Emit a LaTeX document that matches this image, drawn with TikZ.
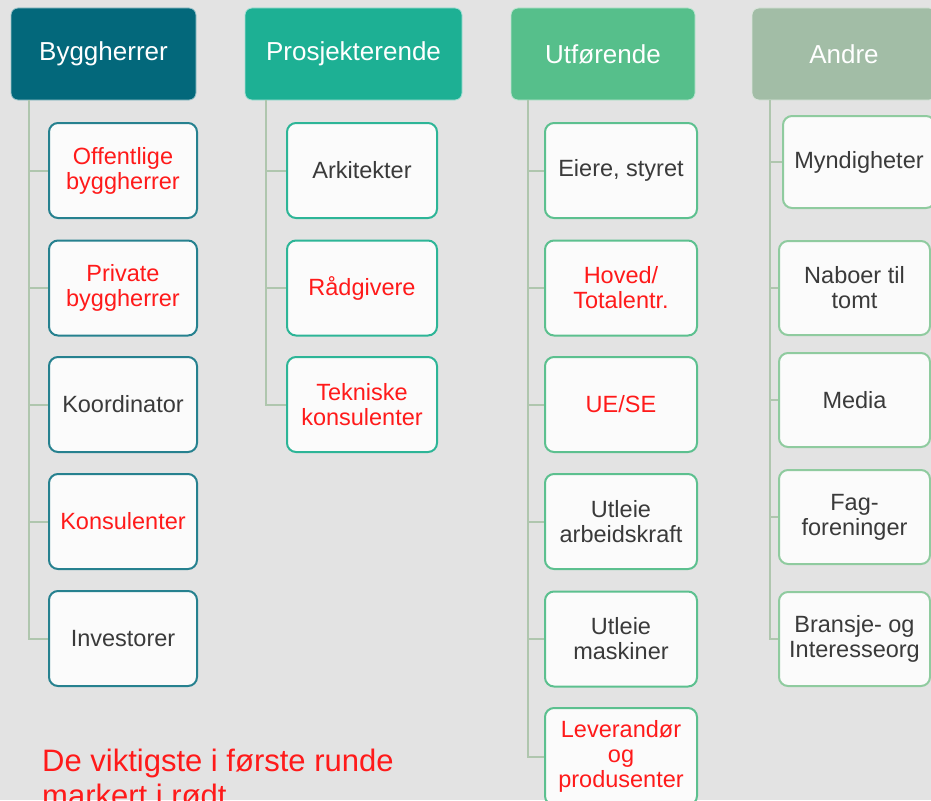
\documentclass[tikz,border=0pt]{standalone}
\usepackage{fontspec}
\setmainfont{Liberation Sans}
\definecolor{bgc}{HTML}{E3E3E3}
\definecolor{hA}{HTML}{03687B}
\definecolor{hB}{HTML}{1DB094}
\definecolor{hC}{HTML}{56BF8B}
\definecolor{hD}{HTML}{A2BDA6}
\definecolor{bA}{HTML}{26818F}
\definecolor{bB}{HTML}{2DB597}
\definecolor{bC}{HTML}{5CC08F}
\definecolor{bD}{HTML}{8FCB9F}
\definecolor{lnc}{HTML}{AFC6AE}
\definecolor{grt}{HTML}{3A3A3A}
\definecolor{redt}{HTML}{FF1A1A}
\definecolor{cfill}{HTML}{FBFBFB}
\tikzset{
  hdr/.style={rectangle, rounded corners=7pt, draw=white!60!#1, line width=0.8pt, fill=#1, text=white,
    minimum height=92pt, inner sep=0pt, font=\fontsize{26}{29}\selectfont, align=center},
  child/.style={rectangle, rounded corners=9pt, draw=#1, line width=2pt, fill=cfill,
    minimum height=95pt, minimum width=149pt, inner sep=0pt, font=\fontsize{23.5}{25}\selectfont, align=center, text=grt},
  red/.style={text=redt},
  conn/.style={draw=lnc, line width=2pt},
}
\begin{document}
\begin{tikzpicture}[x=1pt,y=-1pt]
\useasboundingbox[fill=bgc] (0,0) rectangle (931,800);
% headers
\node[hdr=hA, minimum width=185pt] (h1) at (103.5,54) {Byggherrer};
\node[hdr=hB, minimum width=217pt] (h2) at (353.5,54) {Prosjekterende};
\node[hdr=hC, minimum width=184pt] (h3) at (603,54) {Utførende};
\node[hdr=hD, minimum width=184pt] (h4) at (844,54) {Andre};
% column 1
\node[child=bA, red, minimum width=148pt] (a1) at (123,170.5) {Offentlige\\byggherrer};
\node[child=bA, red, minimum width=148pt] (a2) at (123,288) {Private\\byggherrer};
\node[child=bA, minimum width=148pt] (a3) at (123,404.5) {Koordinator};
\node[child=bA, red, minimum width=148pt] (a4) at (123,521.5) {Konsulenter};
\node[child=bA, minimum width=148pt] (a5) at (123,638.5) {Investorer};
% column 2
\node[child=bB, minimum width=150pt] (b1) at (362,170.5) {Arkitekter};
\node[child=bB, red, minimum width=150pt] (b2) at (362,288) {Rådgivere};
\node[child=bB, red, minimum width=150pt] (b3) at (362,404.5) {Tekniske\\konsulenter};
% column 3
\node[child=bC, minimum width=152pt] (c1) at (621,170.5) {Eiere, styret};
\node[child=bC, red, minimum width=152pt] (c2) at (621,288) {Hoved/\\Totalentr.};
\node[child=bC, red, minimum width=152pt] (c3) at (621,404.5) {UE/SE};
\node[child=bC, minimum width=152pt] (c4) at (621,521.5) {Utleie\\arbeidskraft};
\node[child=bC, minimum width=152pt] (c5) at (621,639) {Utleie\\maskiner};
\node[child=bC, red, minimum width=152pt, minimum height=97pt] (c6) at (621,756.5) {Leverandør\\og\\produsenter};
% column 4
\node[child=bD, minimum width=152pt, minimum height=92pt] (d1) at (859,162) {Myndigheter};
\node[child=bD, minimum width=151pt, minimum height=94pt] (d2) at (854.5,288) {Naboer til\\tomt};
\node[child=bD, minimum width=151pt, minimum height=94pt] (d3) at (854.5,400) {Media};
\node[child=bD, minimum width=151pt, minimum height=94pt] (d4) at (854.5,517) {Fag-\\foreninger};
\node[child=bD, minimum width=151pt, minimum height=94pt] (d5) at (854.5,639) {Bransje- og\\Interesseorg};
% connectors
\foreach \c in {a1,a2,a3,a4,a5}{\draw[conn] ([xshift=18pt]h1.south west) |- (\c.west);}
\foreach \c in {b1,b2,b3}{\draw[conn] ([xshift=21pt]h2.south west) |- (\c.west);}
\foreach \c in {c1,c2,c3,c4,c5,c6}{\draw[conn] ([xshift=17pt]h3.south west) |- (\c.west);}
\foreach \c in {d1,d2,d3,d4,d5}{\draw[conn] ([xshift=18pt]h4.south west) |- (\c.west);}
% note
\node[anchor=base west, inner sep=0pt, align=left, text=redt, font=\fontsize{31}{35}\selectfont] (note) at (42,806) {De viktigste i første runde\\markert i rødt};
\end{tikzpicture}
\end{document}
